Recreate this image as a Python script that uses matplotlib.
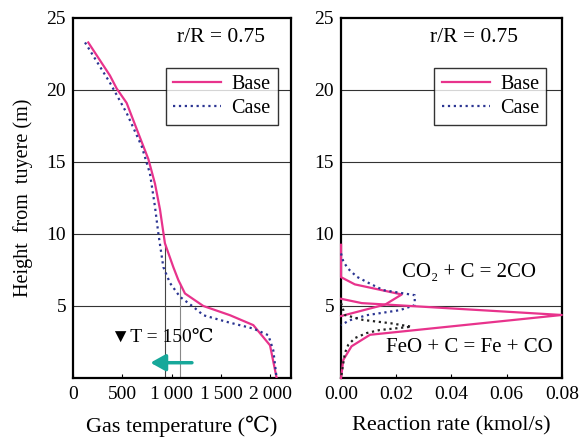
import matplotlib
matplotlib.use("Agg")
import matplotlib.pyplot as plt
import numpy as np

plt.rcParams['font.family'] = ['Liberation Serif', 'DejaVu Serif', 'DejaVu Sans']

# gas temperature (C) vs height (m)
base_t = [155, 375, 443, 544, 662, 764, 831, 882, 932, 1017, 1068, 1135, 1321, 1591, 1828, 1997, 2064]
base_th = [23.3, 21.0, 20.1, 19.1, 17.0, 15.2, 13.5, 11.7, 9.35, 7.7, 6.8, 5.87, 5.0, 4.36, 3.67, 2.27, 0.0]
case_t = [122, 375, 544, 696, 780, 831, 865, 916, 983, 1084, 1220, 1321, 1557, 1828, 1980, 2030, 2064]
case_th = [23.3, 20.5, 18.4, 16.1, 14.2, 11.9, 10.05, 7.7, 6.6, 5.64, 4.94, 4.36, 3.9, 3.43, 2.97, 1.93, 0.0]

# reaction rates (kmol/s) vs height (m)
base_co2_r = [0, 0, 0.005, 0.022, 0.016, 0]
base_co2_h = [9.25, 7.0, 6.5, 5.8, 5.1, 4.3]
base_feo_r = [0, 0.0075, 0.08, 0.0105, 0.0038, 0.0008, 0]
base_feo_h = [5.5, 5.2, 4.375, 3.0, 2.2, 1.25, 0]
case_co2_r = [0, 0.0008, 0.0025, 0.0057, 0.0105, 0.0153, 0.0267, 0.0267, 0.0213, 0.0093, 0.003, 0]
case_co2_h = [8.65, 8.1, 7.6, 7.03, 6.55, 6.1, 5.75, 5.06, 4.71, 4.36, 4.0, 3.67]
case_feo_r = [0, 0.0014, 0.008, 0.018, 0.0255, 0.014, 0.0093, 0.005, 0.0026, 0.0014, 0.0006, 0]
case_feo_h = [5.2, 4.375, 4.03, 3.8, 3.56, 3.33, 3.12, 2.77, 2.3, 1.73, 0.78, 0]

pink = '#e8338c'
navy = '#2b3592'

fig = plt.figure(figsize=(5.81, 4.41), dpi=100)
ax1 = fig.add_axes([0.1256, 0.1429, 0.3753, 0.8163])
ax2 = fig.add_axes([0.587, 0.1429, 0.380, 0.8163])

for ax in (ax1, ax2):
    ax.set_ylim(0, 25)
    ax.set_yticks([5, 10, 15, 20, 25])
    for h in [5, 10, 15, 20]:
        ax.axhline(h, color='#333333', lw=0.8, zorder=1)
    for s in ax.spines.values():
        s.set_linewidth(1.6)
    ax.tick_params(axis='x', direction='in', length=3, labelsize=14, pad=6)
    ax.tick_params(axis='y', length=0, labelsize=14, pad=5)

# left panel
ax1.set_xlim(0, 2210)
ax1.set_xticks([0, 500, 1000, 1500, 2000])
ax1.set_xticklabels(['0', '500', '1\u2009000', '1\u2009500', '2\u2009000'])
ax1.plot([937, 937], [0, 9.3], color='#444444', lw=0.8, zorder=1)
ax1.plot([1082, 1082], [0, 6.6], color='#888888', lw=0.8, zorder=1)
ax1.plot(base_t, base_th, color=pink, lw=1.6, label='Base', zorder=3)
ax1.plot(case_t, case_th, color=navy, lw=1.6, ls=':', label='Case', zorder=3)
ax1.annotate('', xy=(757, 1.06), xytext=(1234, 1.06),
             arrowprops=dict(arrowstyle='-|>,head_length=0.9,head_width=0.5',
                             color='#17a89a', lw=2.5))
ax1.text(910, 2.85, '\u25bcT = 150\u2103', ha='center', va='center', fontsize=14)
ax1.text(0.68, 0.945, 'r/R = 0.75', transform=ax1.transAxes, ha='center', va='center', fontsize=15.5)
ax1.set_xlabel('Gas temperature (\u2103)', fontsize=16, labelpad=9)
ax1.set_ylabel('Height  from  tuyere (m)', fontsize=14.5, labelpad=10)
leg1 = ax1.legend(loc='upper right', bbox_to_anchor=(0.985, 0.89), fontsize=14.5, frameon=True,
                  fancybox=False, edgecolor='black', handlelength=2.4, borderpad=0.35,
                  labelspacing=0.25, handletextpad=0.5)
leg1.get_frame().set_linewidth(1.0)

# right panel
ax2.set_xlim(0, 0.08)
ax2.set_xticks([0, 0.02, 0.04, 0.06, 0.08])
ax2.set_xticklabels(['0.00', '0.02', '0.04', '0.06', '0.08'])
ax2.plot(base_co2_r, base_co2_h, color=pink, lw=1.6, label='Base', zorder=3, clip_on=False)
ax2.plot(case_co2_r, case_co2_h, color=navy, lw=1.6, ls=':', label='Case', zorder=3, clip_on=False)
ax2.plot(base_feo_r, base_feo_h, color=pink, lw=1.6, zorder=3, clip_on=False)
ax2.plot(case_feo_r, case_feo_h, color='#222222', lw=1.6, ls=':', zorder=3, clip_on=False)
ax2.text(0.6, 0.945, 'r/R = 0.75', transform=ax2.transAxes, ha='center', va='center', fontsize=15.5)
ax2.text(0.0465, 7.3, 'CO\u2082 + C = 2CO', ha='center', va='center', fontsize=15)
ax2.text(0.0465, 2.1, 'FeO + C = Fe + CO', ha='center', va='center', fontsize=15)
ax2.set_xlabel('Reaction rate (kmol/s)', fontsize=16, labelpad=9)
leg2 = ax2.legend(loc='upper right', bbox_to_anchor=(0.975, 0.89), fontsize=14.5, frameon=True,
                  fancybox=False, edgecolor='black', handlelength=2.4, borderpad=0.35,
                  labelspacing=0.25, handletextpad=0.5)
leg2.get_frame().set_linewidth(1.0)

fig.savefig('out.png', dpi=100)
